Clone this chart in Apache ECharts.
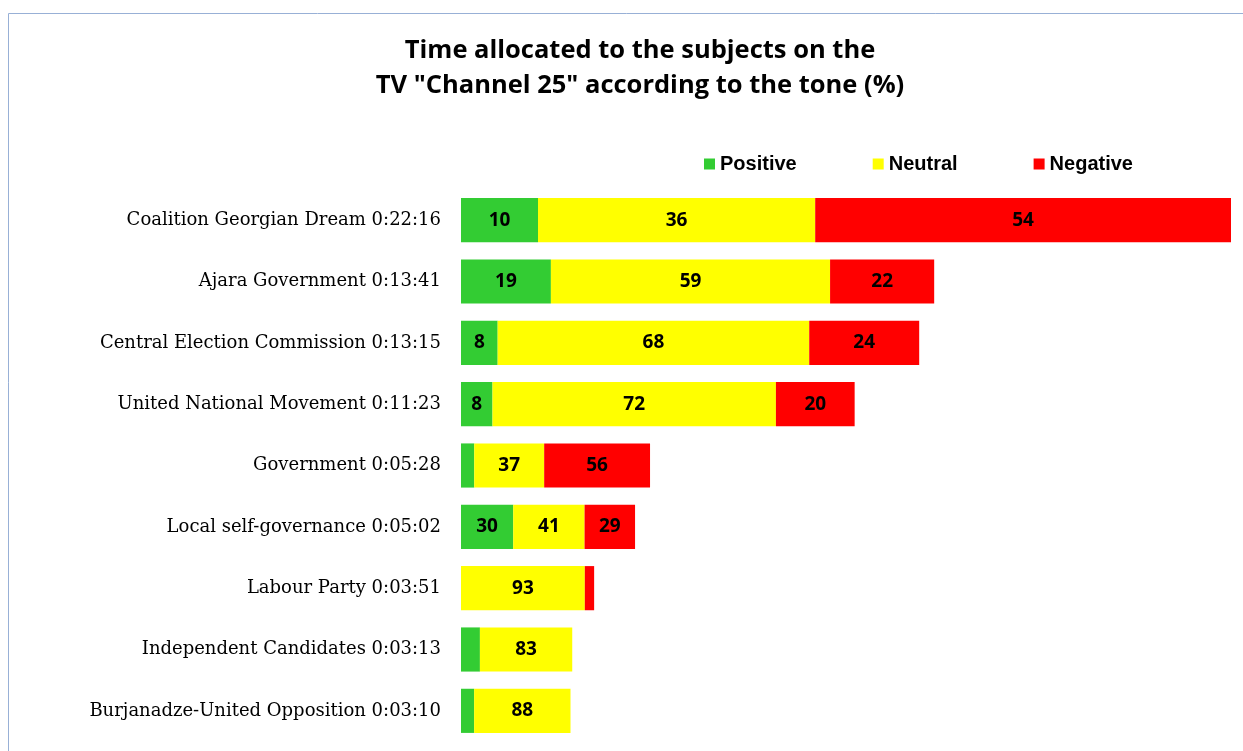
<!DOCTYPE html>
<html><head><meta charset="utf-8">
<script src="https://cdn.jsdelivr.net/npm/echarts@6/dist/echarts.min.js"></script>
<style>html,body{margin:0;padding:0;background:#fff}#c{width:1243px;height:751px}</style>
</head><body><div id="c"></div>
<script>
var categories = ["Coalition Georgian Dream 0:22:16","Ajara Government 0:13:41","Central Election Commission 0:13:15","United National Movement 0:11:23","Government 0:05:28","Local self-governance 0:05:02","Labour Party 0:03:51","Independent Candidates 0:03:13","Burjanadze-United Opposition 0:03:10"];
var totalSeconds = [1336, 821, 795, 683, 328, 302, 231, 193, 190];
var positivePct = [10, 19, 8, 8, 7, 30, 0, 17, 12];
var neutralPct  = [36, 59, 68, 72, 37, 41, 93, 83, 88];
var negativePct = [54, 22, 24, 20, 56, 29, 7, 0, 0];

function build(pcts){
  return pcts.map(function(p,i){
    var v = p * totalSeconds[i] / 100;
    return {value: v, pct: p, label: {show: v >= 40}};
  });
}
var lbl = {position:'inside', color:'#000', fontFamily:'Open Sans', fontWeight:'bold', fontSize:19,
  formatter:function(p){return p.data.pct;}};
var chart = echarts.init(document.getElementById('c'));
chart.setOption({
  animation:false,
  title:{text:'Time allocated to the subjects on the\nTV "Channel 25" according to the tone (%)',
    left:635, top:28, textAlign:'center',
    textStyle:{fontFamily:'Open Sans', fontWeight:'bold', fontSize:25.5, color:'#000', lineHeight:35}},
  legend:{left:699, top:149, itemWidth:11, itemHeight:11, itemGap:76, icon:'rect',
    textStyle:{fontFamily:'Liberation Sans', fontWeight:'bold', fontSize:20, color:'#000'},
    data:['Positive','Neutral','Negative']},
  graphic:[{type:'rect', shape:{x:8.5,y:13.5,width:1300,height:800}, style:{fill:'none', stroke:'#98b0d6', lineWidth:1}, silent:true}],
  grid:{left:461, right:12, top:189.5, bottom:9.5, containLabel:false},
  xAxis:{type:'value', min:0, max:1336, show:false, splitLine:{show:false}},
  yAxis:{type:'category', inverse:true, data:categories,
    axisLine:{show:false}, axisTick:{show:false},
    axisLabel:{margin:20, color:'#000', fontFamily:'DejaVu Serif', fontSize:18}},
  series:[
    {name:'Positive', type:'bar', stack:'t', barCategoryGap:'28%', itemStyle:{color:'#33CC33'}, label:lbl, data:build(positivePct)},
    {name:'Neutral', type:'bar', stack:'t', itemStyle:{color:'#FFFF00'}, label:lbl, data:build(neutralPct)},
    {name:'Negative', type:'bar', stack:'t', itemStyle:{color:'#FF0000'}, label:lbl, data:build(negativePct)}
  ]
});
</script></body></html>
